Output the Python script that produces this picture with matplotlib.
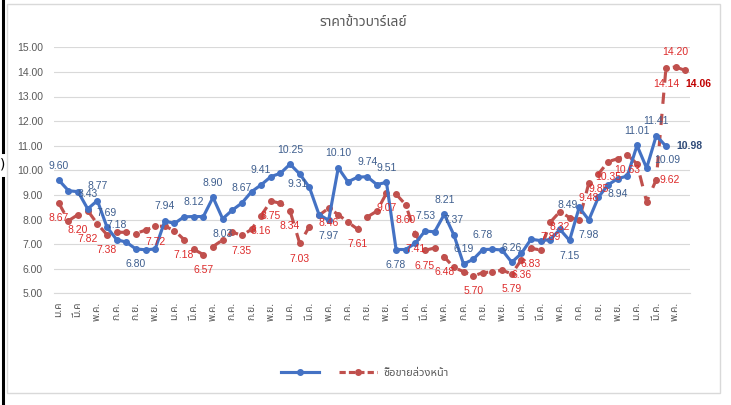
import matplotlib
matplotlib.use("Agg")
import matplotlib.pyplot as plt
from matplotlib import font_manager, ft2font
from matplotlib.lines import Line2D
from matplotlib.patches import Rectangle

# monthly barley price (blue, unnamed) and futures price (red)
spot = [9.60, 9.17, 9.13, 8.43, 8.77, 7.69, 7.18, 7.08, 6.80, 6.77,
        6.80, 7.94, 7.84, 8.11, 8.12, 8.12, 8.90, 8.03, 8.38, 8.67,
        9.13, 9.41, 9.74, 9.88, 10.25, 9.85, 9.31, 8.20, 7.97, 10.10,
        9.53, 9.72, 9.74, 9.42, 9.51, 6.78, 6.78, 7.04, 7.53, 7.50,
        8.21, 7.37, 6.19, 6.38, 6.78, 6.79, 6.76, 6.26, 6.62, 7.20,
        7.14, 7.18, 7.60, 7.15, 8.49, 7.98, 8.91, 9.41, 9.66, 9.77,
        11.01, 10.09, 11.41, 10.98]
futures = [8.67, 7.95, 8.20, 8.36, 7.82, 7.38, 7.48, 7.48, 7.43, 7.57,
           7.72, 7.73, 7.55, 7.18, 6.79, 6.57, 6.90, 7.17, 7.49, 7.35,
           7.60, 8.16, 8.75, 8.66, 8.34, 7.03, 7.71, 8.17, 8.46, 8.20,
           7.89, 7.61, 8.10, 8.34, 9.07, 9.03, 8.60, 7.41, 6.75, 6.84,
           6.48, 6.05, 5.88, 5.70, 5.84, 5.87, 5.94, 5.79, 6.36, 6.83,
           6.76, 7.89, 8.32, 8.08, 7.98, 9.48, 9.85, 10.35, 10.47, 10.63,
           10.26, 8.72, 9.62, 14.14, 14.20, 14.06]
n_months = 66

tick_labels = ["ม.ค", "มี.ค", "พ.ค.", "ก.ค.", "ก.ย.", "พ.ย.",
               "ม.ค.", "มี.ค.", "พ.ค.", "ก.ค.", "ก.ย.", "พ.ย.",
               "ม.ค.", "มี.ค.", "พ.ค.", "ก.ค.", "ก.ย.", "พ.ย.",
               "ม.ค.", "มี.ค.", "พ.ค.", "ก.ค.", "ก.ย.", "พ.ย.",
               "ม.ค.", "มี.ค.", "พ.ค.", "ก.ค.", "ก.ย.", "พ.ย.",
               "ม.ค.", "มี.ค.", "พ.ค."]

# which points carry a value label, and where it sits
spot_labels = [(0, "9.60", "above"), (3, "8.43", "above"), (4, "8.77", "above"),
               (5, "7.69", "above"), (6, "7.18", "above"), (8, "6.80", "below"),
               (11, "7.94", "above"), (14, "8.12", "above"), (16, "8.90", "above"),
               (17, "8.03", "below"), (19, "8.67", "above"), (21, "9.41", "above"),
               (24, "10.25", "above"), (26, "9.31", "left"), (28, "7.97", "below"),
               (29, "10.10", "above"), (32, "9.74", "above"), (34, "9.51", "above"),
               (35, "6.78", "below"), (38, "7.53", "above"), (40, "8.21", "above"),
               (41, "7.37", "above"), (42, "6.19", "above"), (44, "6.78", "above"),
               (47, "6.26", "above"), (53, "7.15", "below"), (54, "8.49", "left"),
               (55, "7.98", "below"), (58, "8.94", "below"), (60, "11.01", "above"),
               (61, "10.09", "right_up"), (62, "11.41", "above")]
futures_labels = [(0, "8.67", "below"), (2, "8.20", "below"), (4, "7.82", "below_left"),
                  (5, "7.38", "below"), (10, "7.72", "below"), (13, "7.18", "below"),
                  (15, "6.57", "below"), (19, "7.35", "below"), (21, "8.16", "below"),
                  (22, "8.75", "below"), (24, "8.34", "below"), (25, "7.03", "below"),
                  (28, "8.46", "below"), (31, "7.61", "below"), (34, "9.07", "below"),
                  (36, "8.60", "below"), (37, "7.41", "below"), (38, "6.75", "below"),
                  (40, "6.48", "below"), (43, "5.70", "below"), (47, "5.79", "below"),
                  (48, "6.36", "below"), (49, "6.83", "below"), (51, "7.89", "below"),
                  (52, "8.32", "below"), (55, "9.48", "below"), (56, "9.85", "below"),
                  (57, "10.35", "below"), (59, "10.63", "below"), (62, "9.62", "right"),
                  (63, "14.14", "below"), (64, "14.20", "above")]

OFFSETS = {"above": (0, 10.5, "center"), "below": (0, -11, "center"),
           "left": (-8.5, 2, "center"), "below_left": (-7, -11, "center"),
           "right": (2.5, 0, "left"), "far_right": (7.5, 0, "left"),
           "right_up": (5.5, 6, "left"), "below_right": (0, -10, "left")}


def find_thai_font():
    names = []
    for f in font_manager.fontManager.ttflist:
        try:
            if ord("ร") in ft2font.FT2Font(f.fname).get_charmap():
                names.append(f.name)
        except Exception:
            pass
    for pref in ["Noto Sans Thai", "Noto Sans Thai UI", "Loma", "Garuda", "Tlwg Typo",
                 "Norasi", "Sarabun", "Kinnari"]:
        if pref in names:
            return pref
    return names[0] if names else None


thai = find_thai_font()
num_font = ["Liberation Sans", "DejaVu Sans"]
thai_font = ([thai] if thai else []) + num_font

BLUE = "#4472C4"
RED = "#C0504D"
GREY = "#595959"

fig = plt.figure(figsize=(7.31, 4.05), dpi=100)
ax = fig.add_axes([54 / 731, 1 - 293.3 / 405, 636 / 731, 246 / 405])

x = list(range(n_months))
ax.plot(x[:len(spot)], spot, color=BLUE, lw=2.25, marker="o", ms=4,
        solid_capstyle="round", zorder=3)
ax.plot(x[:len(futures)], futures, color=RED, lw=2.25, marker="o", ms=4,
        dashes=(3.6, 3.2), dash_capstyle="butt", zorder=2)


def put_labels(values, labels, color):
    for i, text, pos in labels:
        dx, dy, ha = OFFSETS[pos]
        ax.annotate(text, (i, values[i]), xytext=(dx, dy), textcoords="offset points",
                    ha=ha, va="center", fontsize=7.5, color=color, family=num_font,
                    zorder=5)


put_labels(spot, spot_labels, "#3E5E8E")
put_labels(futures, futures_labels, "#DD2A2A")
ax.annotate("10.98", (63, spot[63]), xytext=(7.5, 0), textcoords="offset points",
            ha="left", va="center", fontsize=7.5, fontweight="bold", color="#2E4A78",
            family=num_font)
ax.annotate("14.06", (65, futures[65]), xytext=(0, -10), textcoords="offset points",
            ha="left", va="center", fontsize=7.5, fontweight="bold", color="#C00000",
            family=num_font)

ax.set_xlim(-0.5, n_months - 0.5)
ax.set_ylim(5, 15)
ax.set_yticks(range(5, 16))
ax.set_yticklabels([f"{v:.2f}" for v in range(5, 16)], fontsize=7.5, color=GREY,
                   family=num_font)
ax.set_xticks(range(0, n_months, 2))
ax.set_xticklabels(tick_labels, rotation=90, fontsize=7.5, color=GREY, family=thai_font)
ax.tick_params(length=0)
ax.tick_params(axis="y", pad=8)
ax.tick_params(axis="x", pad=6)
ax.grid(axis="y", color="#D9D9D9", lw=0.8)
ax.set_axisbelow(True)
for side in ["top", "right", "left"]:
    ax.spines[side].set_visible(False)
ax.spines["bottom"].set_color("#D9D9D9")

fig.text(363 / 731, 1 - 23 / 405, "ราคาข้าวบาร์เลย์", ha="center", va="center",
         fontsize=10, color=GREY, family=thai_font)

handles = [Line2D([], [], color=BLUE, lw=2.25, marker="o", ms=4),
           Line2D([], [], color=RED, lw=2.25, marker="o", ms=4, dashes=(2, 1))]
fig.legend(handles, ["", "ซื้อขายล่วงหน้า"], loc="center",
           bbox_to_anchor=(365 / 731, 1 - 373 / 405), ncol=2, frameon=False,
           handlelength=3.4, handletextpad=0.6, columnspacing=1.2,
           prop={"family": thai_font, "size": 8}, labelcolor=GREY)

# chart frame and the bits of the screen around it
fig.add_artist(Rectangle((7 / 731, 1 - 393 / 405), 713 / 731, 389 / 405,
                         transform=fig.transFigure, fill=False, ec="#D9D9D9", lw=1))
fig.add_artist(Line2D([2.5 / 731] * 2, [1, 1 - 152 / 405], transform=fig.transFigure,
                      color="black", lw=2.2))
fig.add_artist(Line2D([2.5 / 731] * 2, [1 - 178 / 405, 0], transform=fig.transFigure,
                      color="black", lw=2.2))
fig.text(0, 1 - 165 / 405, ")", ha="left", va="center", fontsize=10, color="black")

fig.savefig("out.png", dpi=100)
